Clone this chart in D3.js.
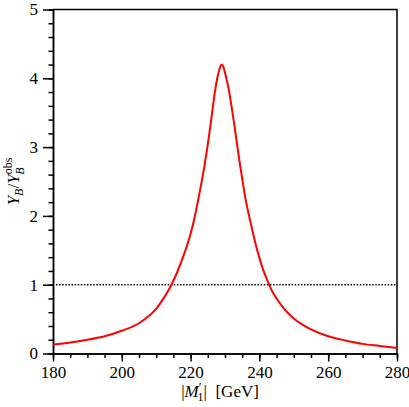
<!DOCTYPE html>
<html>
<head>
<meta charset="utf-8">
<script src="https://cdn.jsdelivr.net/npm/d3@7"></script>
<style>
  body { margin: 0; background: #fff; }
  .axis path, .axis line { stroke: #000; stroke-width: 1.5; }
</style>
</head>
<body>
<div id="chart"></div>
<script>
// values
var mass = [180, 185, 190, 195, 200, 205, 207.5, 210, 212, 214, 216, 218, 220, 221, 222, 223, 224, 225, 226,
            227, 228, 228.5, 229, 229.5, 230, 231, 232, 233, 234, 235, 236, 237, 238, 239, 240, 241, 242,
            243, 244, 245, 247.5, 250, 252.5, 255, 260, 265, 270, 275, 280];
var ratio = [0.13, 0.16, 0.20, 0.25, 0.33, 0.44, 0.53, 0.65, 0.79, 0.96, 1.17, 1.43, 1.74, 1.94, 2.18, 2.44, 2.72, 3.04, 3.40,
             3.78, 4.06, 4.15, 4.20, 4.17, 4.08, 3.86, 3.56, 3.22, 2.87, 2.54, 2.24, 2.00, 1.78, 1.57, 1.39, 1.23, 1.10,
             0.98, 0.88, 0.80, 0.63, 0.51, 0.42, 0.35, 0.25, 0.19, 0.14, 0.11, 0.08];
var xTicks = [180, 200, 220, 240, 260, 280];
var yTicks = [0, 1, 2, 3, 4, 5];
var refLevel = 1;

var serif = "'Liberation Serif', 'Times New Roman', Times, serif";

var margin = {top: 9.5, right: 12, bottom: 53.5, left: 53},
    width = 409 - margin.left - margin.right,
    height = 407 - margin.top - margin.bottom;

var svg = d3.select("#chart").append("svg")
  .attr("width", 409)
  .attr("height", 407)
  .append("g")
  .attr("transform", "translate(" + margin.left + "," + margin.top + ")");

var x = d3.scaleLinear().domain([180, 280]).range([0, width]);
var y = d3.scaleLinear().domain([0, 5]).range([height, 0]);

var data = mass.map(function(m, i) { return {m: m, r: ratio[i]}; });

// minor ticks
svg.append("g")
  .attr("class", "axis")
  .attr("transform", "translate(0," + height + ")")
  .call(d3.axisBottom(x).tickValues(d3.range(180, 281, 5)).tickSize(4.5).tickSizeOuter(0).tickFormat(""));
svg.append("g")
  .attr("class", "axis")
  .call(d3.axisLeft(y).tickValues(d3.range(0, 5.01, 0.2)).tickSize(4.5).tickSizeOuter(0).tickFormat(""));

// major ticks
svg.append("g")
  .attr("class", "axis")
  .attr("transform", "translate(0," + height + ")")
  .call(d3.axisBottom(x).tickValues(xTicks).tickSize(8).tickPadding(4).tickSizeOuter(0).tickFormat(d3.format("d")))
  .attr("font-family", serif)
  .attr("font-size", 17);
svg.append("g")
  .attr("class", "axis")
  .call(d3.axisLeft(y).tickValues(yTicks).tickSize(10).tickPadding(5).tickSizeOuter(0).tickFormat(d3.format("d")))
  .attr("font-family", serif)
  .attr("font-size", 17);

// frame top/right
svg.append("path")
  .attr("d", "M0,0H" + width + "V" + height)
  .attr("fill", "none")
  .attr("stroke", "#000")
  .attr("stroke-width", 1.5);

// dotted reference line
svg.append("line")
  .attr("x1", x(180) + 3)
  .attr("x2", x(280))
  .attr("y1", y(refLevel))
  .attr("y2", y(refLevel))
  .attr("stroke", "#000")
  .attr("stroke-width", 1.6)
  .attr("stroke-dasharray", "1.5,1.6");

var line = d3.line()
  .x(d => x(d.m))
  .y(d => y(d.r))
  .curve(d3.curveMonotoneX);

svg.append("path")
  .datum(data)
  .attr("fill", "none")
  .attr("stroke", "#ff0000")
  .attr("stroke-width", 2)
  .attr("d", line);

// x label: |M'_1| [GeV]
var xl = svg.append("text")
  .attr("x", width / 2 - 5)
  .attr("y", height + 43)
  .attr("text-anchor", "middle")
  .attr("font-family", serif)
  .style("font-size", "17px");
xl.append("tspan").text("|");
xl.append("tspan").style("font-style", "italic").text("M");
xl.append("tspan").attr("dy", -6).style("font-size", "13px").text("\u2032");
xl.append("tspan").attr("dx", -4).attr("dy", 10).style("font-size", "12px").text("1");
xl.append("tspan").attr("dy", -4).text("|\u2002[GeV]");

// y label: Y_B / Y_B^obs
var yl = svg.append("text")
  .attr("transform", "translate(" + (-34) + "," + (height / 2) + ") rotate(-90)")
  .attr("text-anchor", "middle")
  .attr("font-family", serif)
  .style("font-size", "17px");
yl.append("tspan").style("font-style", "italic").text("Y");
yl.append("tspan").attr("dy", 4).style("font-size", "12px").style("font-style", "italic").text("B");
yl.append("tspan").attr("dy", -4).text("/");
yl.append("tspan").style("font-style", "italic").text("Y");
yl.append("tspan").attr("dy", -7).style("font-size", "12px").text("obs");
yl.append("tspan").attr("dx", -17).attr("dy", 12).style("font-size", "12px").style("font-style", "italic").text("B");
</script>
</body>
</html>
